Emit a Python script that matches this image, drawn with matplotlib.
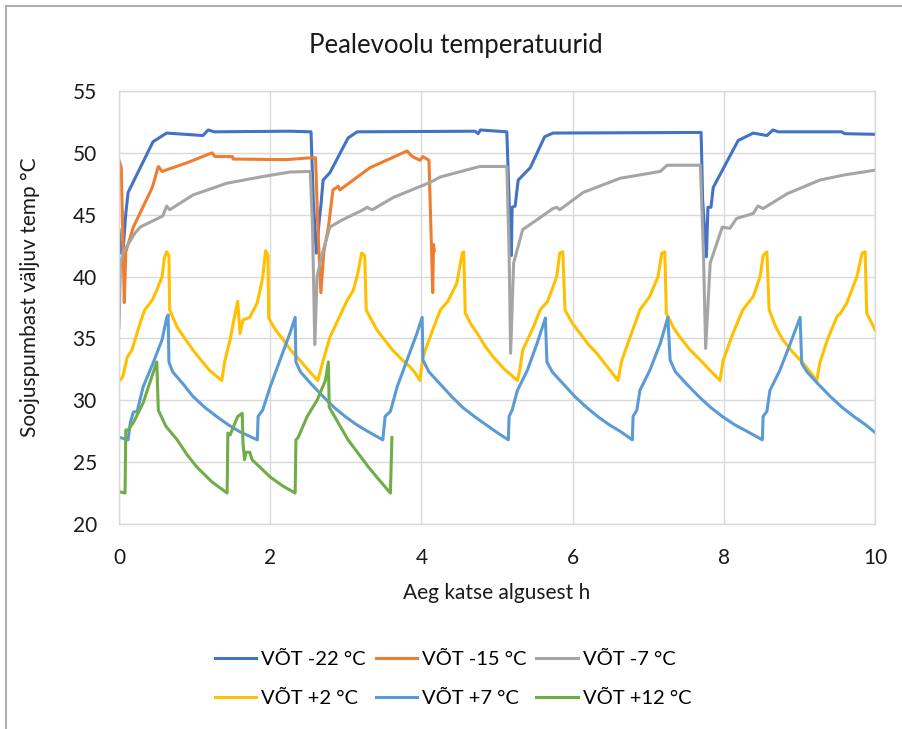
import matplotlib
matplotlib.use("Agg")
import matplotlib.pyplot as plt
from matplotlib.lines import Line2D

plt.rcParams['font.family'] = ['Lato', 'DejaVu Sans']

# ---- data (hours, °C) ----
blue_x = [0.00, 0.03, 0.05, 0.09, 0.12, 0.45, 0.63, 1.11, 1.18, 1.26, 2.26, 2.54,
          2.57, 2.61, 2.65, 2.67, 2.70, 2.79, 3.03, 3.15, 4.71, 4.75, 4.78, 5.13,
          5.16, 5.19, 5.20, 5.24, 5.28, 5.44, 5.63, 5.74, 7.70,
          7.72, 7.77, 7.79, 7.83, 7.86, 8.19, 8.39, 8.57, 8.65, 8.72, 9.56, 9.60, 10.0]
blue_y = [43.8, 41.9, 41.8, 45.1, 46.8, 50.9, 51.6, 51.4, 51.85, 51.7, 51.75, 51.7,
          46.2, 41.9, 44.6, 45.7, 47.8, 48.4, 51.2, 51.7, 51.75, 51.55, 51.85, 51.7,
          46.2, 41.7, 45.6, 45.7, 47.8, 48.8, 51.3, 51.6, 51.65,
          46.2, 41.6, 45.6, 45.6, 47.2, 51.0, 51.6, 51.4, 51.85, 51.7, 51.7, 51.55, 51.5]

orange_x = [0.00, 0.03, 0.07, 0.09, 0.19, 0.44, 0.52, 0.57, 0.90, 1.23, 1.27, 1.50,
            1.51, 2.21, 2.53, 2.60, 2.63, 2.67, 2.71, 2.77, 2.83, 2.90, 2.92, 3.32,
            3.81, 3.88, 3.98, 4.02, 4.10, 4.13, 4.15, 4.16, 4.17]
orange_y = [49.4, 48.8, 37.9, 42.0, 44.0, 47.2, 48.9, 48.5, 49.2, 50.0, 49.7, 49.7,
            49.5, 49.45, 49.6, 49.6, 44.0, 38.7, 42.0, 44.0, 47.0, 47.3, 47.0, 48.8,
            50.15, 49.7, 49.4, 49.7, 49.4, 43.0, 38.7, 42.6, 42.1]

gray_x = [0.00, 0.02, 0.05, 0.21, 0.28, 0.58, 0.63, 0.67, 0.98, 1.43, 1.87, 2.26,
          2.53, 2.56, 2.59, 2.62, 2.69, 2.79, 2.96, 3.23, 3.28, 3.35, 3.63, 4.11,
          4.25, 4.74, 4.78, 5.13, 5.16, 5.18, 5.22, 5.34, 5.53, 5.74, 5.79, 5.83,
          6.14, 6.63, 7.16, 7.25, 7.69, 7.73, 7.76, 7.82, 7.98, 8.08, 8.17, 8.39,
          8.45, 8.52, 8.84, 9.27, 9.58, 10.0]
gray_y = [35.9, 41.0, 41.9, 43.5, 44.0, 44.9, 45.7, 45.4, 46.6, 47.55, 48.05, 48.45,
          48.5, 44.0, 34.5, 40.0, 41.9, 44.0, 44.6, 45.4, 45.6, 45.4, 46.4, 47.6,
          48.05, 48.85, 48.9, 48.9, 42.0, 33.8, 41.1, 43.8, 44.6, 45.5, 45.6, 45.4,
          46.8, 47.95, 48.5, 49.0, 49.0, 42.0, 34.2, 41.1, 44.0, 43.9, 44.7, 45.1,
          45.7, 45.5, 46.7, 47.8, 48.2, 48.6]

yellow_x = [0.01, 0.05, 0.11, 0.17, 0.28, 0.34, 0.44, 0.50, 0.57, 0.60, 0.63, 0.66,
            0.67, 0.77, 0.87, 0.98, 1.09, 1.20, 1.36,
            1.40, 1.47, 1.51, 1.57, 1.60, 1.64, 1.73, 1.83, 1.90, 1.94, 1.97,
            1.98, 2.07, 2.17, 2.28, 2.39, 2.51, 2.63,
            2.70, 2.79, 2.92, 3.02, 3.10, 3.16, 3.21, 3.25,
            3.27, 3.41, 3.51, 3.62, 3.74, 3.85, 3.92, 3.98,
            4.02, 4.15, 4.25, 4.35, 4.47, 4.54, 4.56,
            4.58, 4.66, 4.74, 4.84, 4.95, 5.10, 5.27,
            5.30, 5.34, 5.48, 5.57, 5.67, 5.79, 5.83, 5.87,
            5.90, 6.00, 6.10, 6.21, 6.32, 6.46, 6.60,
            6.65, 6.76, 6.89, 7.02, 7.13, 7.18, 7.22,
            7.24, 7.33, 7.42, 7.55, 7.69, 7.82, 7.95,
            7.99, 8.12, 8.25, 8.39, 8.48, 8.52, 8.57,
            8.60, 8.69, 8.78, 8.91, 9.05, 9.14, 9.23,
            9.27, 9.37, 9.50, 9.54, 9.63, 9.76, 9.83, 9.87, 9.89, 10.0]
yellow_y = [31.6, 31.9, 33.5, 34.05, 36.25, 37.3, 38.1, 38.9, 40.0, 41.5, 42.0, 41.7,
            37.3, 35.9, 35.0, 34.05, 33.2, 32.4, 31.6,
            33.2, 34.9, 36.2, 38.0, 35.4, 36.5, 36.7, 37.9, 39.9, 42.1, 41.7,
            36.65, 35.7, 34.9, 34.0, 33.25, 32.4, 31.6,
            33.2, 35.1, 36.8, 38.1, 38.9, 40.3, 41.9, 41.7,
            37.3, 35.7, 34.9, 34.05, 33.3, 32.7, 32.2, 31.6,
            33.5, 35.7, 37.3, 38.0, 39.5, 41.9, 42.0,
            37.05, 36.1, 35.4, 34.4, 33.5, 32.5, 31.6,
            32.4, 34.05, 35.9, 37.3, 38.0, 40.0, 41.9, 42.0,
            37.3, 36.2, 35.4, 34.5, 33.8, 32.7, 31.6,
            33.2, 35.1, 37.3, 38.4, 40.0, 41.9, 42.0,
            37.05, 35.9, 35.1, 34.1, 33.25, 32.4, 31.6,
            33.2, 35.4, 37.3, 38.4, 40.0, 41.7, 42.0,
            37.3, 35.9, 34.9, 33.9, 33.0, 32.3, 31.6,
            33.0, 34.9, 36.8, 37.0, 37.9, 40.0, 41.9, 42.0, 37.05, 35.7]

lblue_x = [0.01, 0.12, 0.15, 0.19, 0.24, 0.32, 0.45, 0.57, 0.63, 0.65,
           0.66, 0.71, 0.85, 0.98, 1.14, 1.30, 1.45, 1.60, 1.83,
           1.84, 1.90, 2.00, 2.13, 2.26, 2.33,
           2.34, 2.40, 2.53, 2.70, 2.85, 3.00, 3.15, 3.30, 3.49,
           3.52, 3.59, 3.68, 3.81, 3.94, 4.01,
           4.02, 4.10, 4.25, 4.40, 4.55, 4.71, 4.86, 5.00, 5.15,
           5.16, 5.20, 5.27, 5.40, 5.53, 5.64,
           5.66, 5.73, 5.88, 6.03, 6.19, 6.34, 6.49, 6.64, 6.79,
           6.80, 6.85, 6.89, 7.02, 7.16, 7.26,
           7.29, 7.36, 7.51, 7.67, 7.83, 7.99, 8.15, 8.32, 8.51,
           8.52, 8.57, 8.61, 8.74, 8.88, 9.01,
           9.03, 9.10, 9.25, 9.41, 9.57, 9.73, 9.88, 10.0]
lblue_y = [27.0, 26.8, 28.2, 29.05, 29.1, 31.1, 33.0, 34.9, 36.65, 36.9,
           33.1, 32.3, 31.3, 30.3, 29.4, 28.65, 28.0, 27.45, 26.8,
           28.7, 29.2, 31.1, 33.25, 35.4, 36.7,
           33.1, 32.3, 31.4, 30.3, 29.4, 28.65, 28.0, 27.45, 26.8,
           28.7, 29.1, 31.1, 33.25, 35.4, 36.7,
           33.25, 32.3, 31.3, 30.3, 29.4, 28.65, 28.0, 27.4, 26.8,
           28.7, 29.2, 30.8, 32.4, 34.6, 36.65,
           33.1, 32.3, 31.3, 30.3, 29.4, 28.65, 28.0, 27.45, 26.8,
           28.7, 29.2, 30.8, 32.4, 34.6, 36.7,
           33.25, 32.3, 31.3, 30.3, 29.4, 28.65, 28.0, 27.45, 26.8,
           28.7, 29.1, 30.8, 32.4, 34.6, 36.7,
           33.0, 32.3, 31.3, 30.3, 29.4, 28.65, 28.0, 27.4]

green_x = [0.01, 0.08, 0.09, 0.12, 0.19, 0.32, 0.45, 0.50,
           0.52, 0.62, 0.77, 0.90, 1.03, 1.23, 1.43,
           1.44, 1.47, 1.57, 1.63, 1.64, 1.66, 1.68, 1.73, 1.76,
           2.00, 2.16, 2.33,
           2.34, 2.37, 2.49, 2.62, 2.73, 2.77,
           2.78, 3.03, 3.30, 3.45, 3.59, 3.61]
green_y = [22.6, 22.5, 27.6, 27.6, 28.2, 29.8, 32.2, 33.1,
           29.2, 27.9, 26.8, 25.6, 24.6, 23.4, 22.5,
           27.35, 27.2, 28.7, 28.95, 26.55, 25.2, 25.8, 25.8, 25.2,
           23.8, 23.1, 22.5,
           26.8, 27.0, 28.7, 30.0, 31.6, 33.1,
           29.45, 26.8, 24.6, 23.5, 22.5, 27.0]

labels = ['VÕT -22 °C', 'VÕT -15 °C', 'VÕT -7 °C', 'VÕT +2 °C', 'VÕT +7 °C', 'VÕT +12 °C']
colors = ['#4472C4', '#ED7D31', '#A5A5A5', '#FFC000', '#5B9BD5', '#70AD47']
series = [(blue_x, blue_y), (orange_x, orange_y), (gray_x, gray_y),
          (yellow_x, yellow_y), (lblue_x, lblue_y), (green_x, green_y)]

fig = plt.figure(figsize=(9.02, 7.29), dpi=100)
ax = fig.add_axes([119/902, 1-524/729, (875-119)/902, (524-91)/729])

for (xs, ys), c, lab in zip(series, colors, labels):
    ax.plot(xs, ys, color=c, lw=2.2, label=lab, solid_joinstyle='round')

ax.set_xlim(0, 10)
ax.set_ylim(20, 55)
ax.set_xticks(range(0, 11, 2))
ax.set_yticks(range(20, 56, 5))
ax.grid(True, color='#D9D9D9', lw=1.0)
ax.set_axisbelow(True)
for s in ax.spines.values():
    s.set_color('#D9D9D9')
    s.set_linewidth(1.0)
ax.tick_params(length=0, labelsize=15, labelcolor='#1a1a1a')
ax.tick_params(axis='x', pad=17)
ax.tick_params(axis='y', pad=16)

fig.text(497/902, 1-593/729, 'Aeg katse algusest h', ha='center', va='center',
         fontsize=15, color='#1a1a1a')
fig.text(30/902, 1-297/729, 'Soojuspumbast väljuv temp °C', ha='center', va='center',
         rotation=90, fontsize=15, color='#1a1a1a')
fig.text(456/902, 1-45/729, 'Pealevoolu temperatuurid', ha='center', va='center',
         fontsize=18.5, color='#1a1a1a')

order = [0, 3, 1, 4, 2, 5]
handles = [Line2D([0], [0], color=colors[i], lw=2.2) for i in order]
fig.legend(handles, [labels[i] for i in order], loc='center',
           bbox_to_anchor=(453/902, 1-679/729),
           ncol=3, frameon=False, fontsize=14.5, handlelength=2.05, handletextpad=0.25,
           columnspacing=0.5, labelspacing=1.1)

# outer chart frame (left and top edges visible)
fig.add_artist(Line2D([6/902, 6/902], [0, 1-6/729], transform=fig.transFigure,
                      color='#A6A6A6', lw=1.3))
fig.add_artist(Line2D([6/902, 1], [1-6/729, 1-6/729], transform=fig.transFigure,
                      color='#A6A6A6', lw=1.3))

fig.savefig('out.png', dpi=100)
